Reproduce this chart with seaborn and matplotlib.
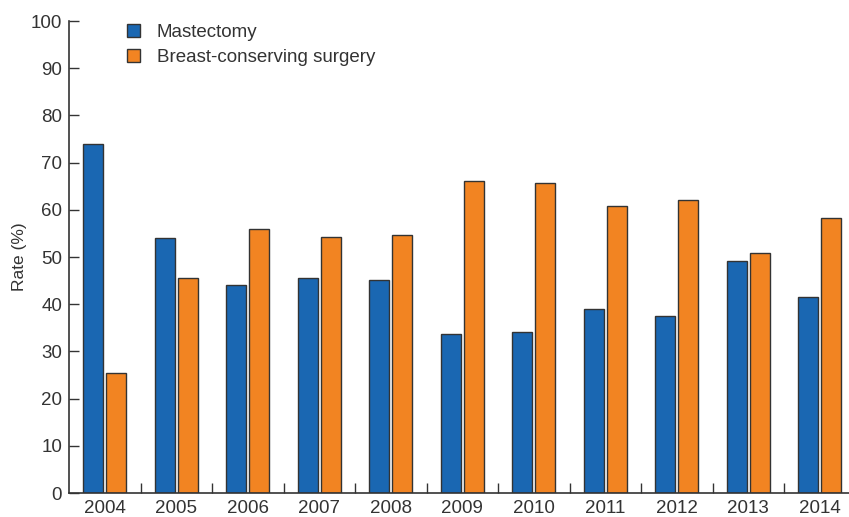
import matplotlib
matplotlib.use("Agg")
import matplotlib.pyplot as plt
import seaborn as sns
import numpy as np
import pandas as pd

years = ["2004", "2005", "2006", "2007", "2008", "2009", "2010", "2011", "2012", "2013", "2014"]
mastectomy = [74.0, 54.1, 44.1, 45.6, 45.2, 33.7, 34.2, 39.0, 37.6, 49.2, 41.5]
bcs = [25.5, 45.6, 55.9, 54.2, 54.6, 66.1, 65.6, 60.9, 62.1, 50.8, 58.3]
series = ["Mastectomy", "Breast-conserving surgery"]
colors = ["#1a67b2", "#f28422"]

df = pd.DataFrame({
    "year": years * 2,
    "rate": mastectomy + bcs,
    "type": [series[0]] * len(years) + [series[1]] * len(years),
})

sns.set_theme(style="white")
plt.rcParams["font.family"] = ["Liberation Sans", "DejaVu Sans"]

fig = plt.figure(figsize=(8.49, 5.17), dpi=100)
ax = fig.add_axes([69 / 849, 24 / 517, 780 / 849, 472 / 517])

sns.barplot(data=df, x="year", y="rate", hue="type", hue_order=series,
            palette=colors, saturation=1, width=0.64, gap=0.125,
            edgecolor="#333333", linewidth=1.0, ax=ax)

ax.set_ylim(0, 100)
ax.set_xlim(-0.5, -0.5 + 780 / 71.5)
ax.set_yticks(np.arange(0, 101, 10))
ax.set_xticks(range(len(years)), years)
ax.set_xticks(np.arange(0.5, len(years) - 0.5, 1), minor=True)

ax.tick_params(axis="y", direction="in", length=7, width=1, color="#333333",
               labelsize=13.5, labelcolor="#333333", pad=5, left=True)
ax.tick_params(axis="x", which="major", length=0, labelsize=13.5,
               labelcolor="#333333", pad=5)
ax.tick_params(axis="x", which="minor", direction="in", length=7, width=1,
               color="#333333", bottom=True)

for side in ["top", "right"]:
    ax.spines[side].set_visible(False)
for side in ["left", "bottom"]:
    ax.spines[side].set_color("#333333")
    ax.spines[side].set_linewidth(1.2)

ax.set_xlabel("")
ax.set_ylabel("Rate (%)", fontsize=12.5, color="#333333", labelpad=3)

leg = ax.legend(loc="upper left", bbox_to_anchor=(0.062, 1.014), frameon=False,
                fontsize=13.5, handlelength=0.7, handleheight=0.7,
                handletextpad=0.9, labelspacing=0.45, borderpad=0)
for t in leg.get_texts():
    t.set_color("#333333")

fig.savefig("out.png", dpi=100)
